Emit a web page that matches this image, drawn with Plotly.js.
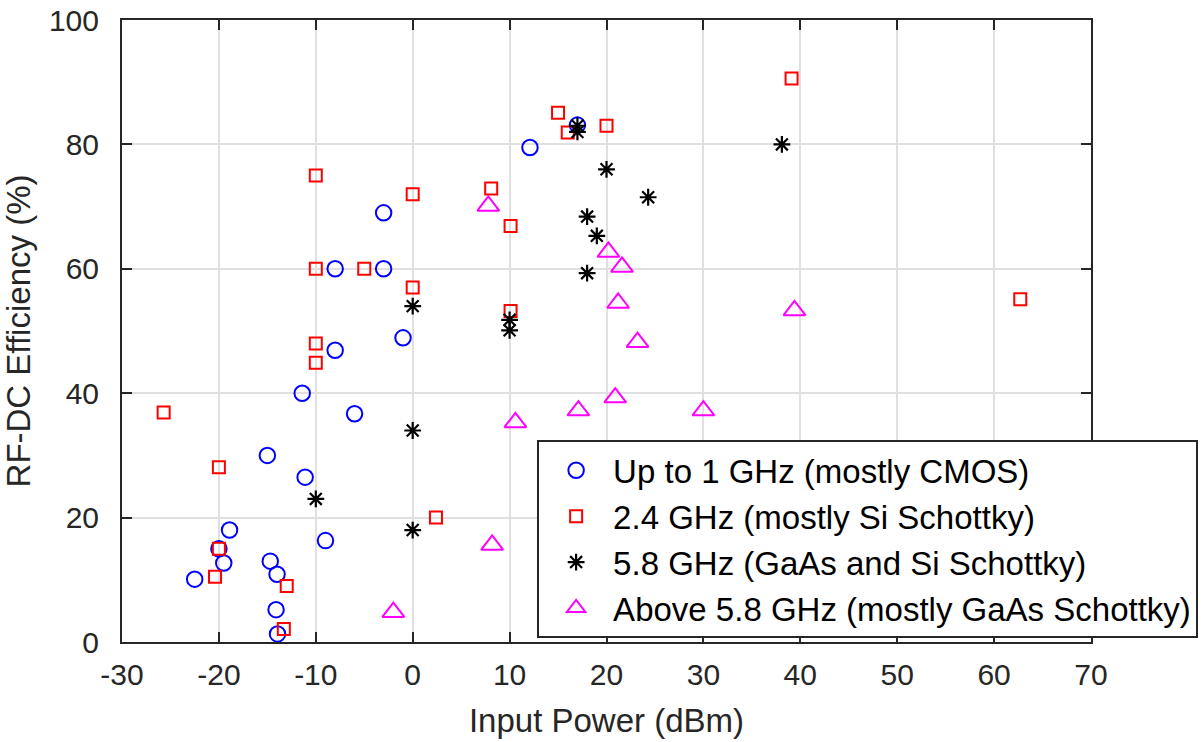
<!DOCTYPE html>
<html>
<head>
<meta charset="utf-8">
<script src="https://cdn.plot.ly/plotly-3.0.1.min.js"></script>
<style>html,body{margin:0;padding:0;background:#fff;}#chart{width:1203px;height:742px;}</style>
</head>
<body>
<div id="chart"></div>
<script>
// Series names
const seriesNames = [
  "Up to 1 GHz (mostly CMOS)",
  "2.4 GHz (mostly Si Schottky)",
  "5.8 GHz (GaAs and Si Schottky)",
  "Above 5.8 GHz (mostly GaAs Schottky)"
];

// Up to 1 GHz (mostly CMOS)
const upTo1GHzPower = [-3, -8, -3, -1, -8, -11.4, -6, -15, -11.1, -18.9, -9, -20, -19.5, -22.5, -14.7, -14, -14.1, -13.95, 12.1, 17];
const upTo1GHzEff   = [69, 60, 60, 48.9, 46.9, 40, 36.7, 30, 26.5, 18, 16.3, 15, 12.7, 10.1, 13, 10.9, 5.2, 1.3, 79.5, 83.1];

// 2.4 GHz (mostly Si Schottky)
const ghz24Power = [-10, 0, -10, -5, 0, -10, -10, -25.7, -20, 2.4, -20, -20.4, -13, -13.3, 15, 16, 20, 39.1, 8.1, 10.1, 10.1, 62.7];
const ghz24Eff   = [75, 72, 60, 60, 57, 48, 44.9, 36.9, 28.1, 20, 15, 10.5, 9, 2.1, 85.1, 81.9, 83, 90.6, 72.9, 66.9, 53.2, 55.1];

// 5.8 GHz (GaAs and Si Schottky)
const ghz58Power = [0, 0, -10, 0, 17, 17, 20, 24.3, 38.1, 18, 19, 18, 10, 10];
const ghz58Eff   = [54, 34, 23, 18, 83, 82, 76, 71.5, 80, 68.4, 65.3, 59.3, 51.8, 50.1];

// Above 5.8 GHz (mostly GaAs Schottky)
const above58Power = [7.8, 20.2, 21.6, 21.2, 23.2, 39.4, 20.9, 17.1, 30, 10.6, 8.2, -2];
const above58Eff   = [70.1, 62.7, 60.3, 54.5, 48.2, 53.3, 39.3, 37.2, 37.2, 35.3, 15.6, 4.8];

// Axis ticks
const xTicks = [-30, -20, -10, 0, 10, 20, 30, 40, 50, 60, 70];
const yTicks = [0, 20, 40, 60, 80, 100];

const FONT = '"Liberation Sans", Arial, Helvetica, sans-serif';
const AXC = '#262626';

const traces = [
  {x: upTo1GHzPower, y: upTo1GHzEff, name: seriesNames[0], type: 'scatter', mode: 'markers',
   marker: {symbol: 'circle-open', size: 15.5, color: '#0000ff', line: {width: 2, color: '#0000ff'}}},
  {x: ghz24Power, y: ghz24Eff, name: seriesNames[1], type: 'scatter', mode: 'markers',
   marker: {symbol: 'square-open', size: 12, color: '#ff0000', line: {width: 2, color: '#ff0000'}}},
  {x: ghz58Power, y: ghz58Eff, name: seriesNames[2], type: 'scatter', mode: 'markers',
   marker: {symbol: 'asterisk-open', size: 14, color: '#000000', line: {width: 2.2, color: '#000000'}}},
  {x: above58Power, y: above58Eff, name: seriesNames[3], type: 'scatter', mode: 'markers',
   marker: {symbol: 'triangle-up-open', size: 19, color: '#ff00ff', line: {width: 2, color: '#ff00ff'}}}
];

const axisCommon = {
  showline: true, linecolor: AXC, linewidth: 2, mirror: 'ticks',
  ticks: 'inside', ticklen: 10, tickwidth: 2, tickcolor: AXC,
  showgrid: true, gridcolor: '#e0e0e0', gridwidth: 2,
  zeroline: false,
  tickfont: {family: FONT, size: 30, color: AXC}
};

const layout = {
  width: 1203, height: 742,
  paper_bgcolor: '#ffffff', plot_bgcolor: '#ffffff',
  margin: {l: 122, r: 112, t: 20, b: 100, autoexpand: false},
  font: {family: FONT, color: AXC},
  showlegend: true,
  xaxis: Object.assign({}, axisCommon, {
    range: [-30, 70], tickmode: 'array', tickvals: xTicks, ticktext: xTicks.map(String),
    ticklabelstandoff: 5,
    title: {text: 'Input Power (dBm)', font: {family: FONT, size: 33, color: AXC}, standoff: 19}
  }),
  yaxis: Object.assign({}, axisCommon, {
    range: [0, 100], tickmode: 'array', tickvals: yTicks, ticktext: yTicks.map(String),
    ticklabelstandoff: 15,
    title: {text: 'RF-DC Efficiency (%)', font: {family: FONT, size: 33, color: AXC}, standoff: 8}
  }),
  legend: {
    x: 0.4284, y: 0.3242, xanchor: 'left', yanchor: 'top',
    bgcolor: '#ffffff', bordercolor: AXC, borderwidth: 2,
    font: {family: FONT, size: 33, color: '#000000'},
    itemwidth: 64, tracegroupgap: 0
  }
};

Plotly.newPlot('chart', traces, layout, {displayModeBar: false, staticPlot: true});
</script>
</body>
</html>
